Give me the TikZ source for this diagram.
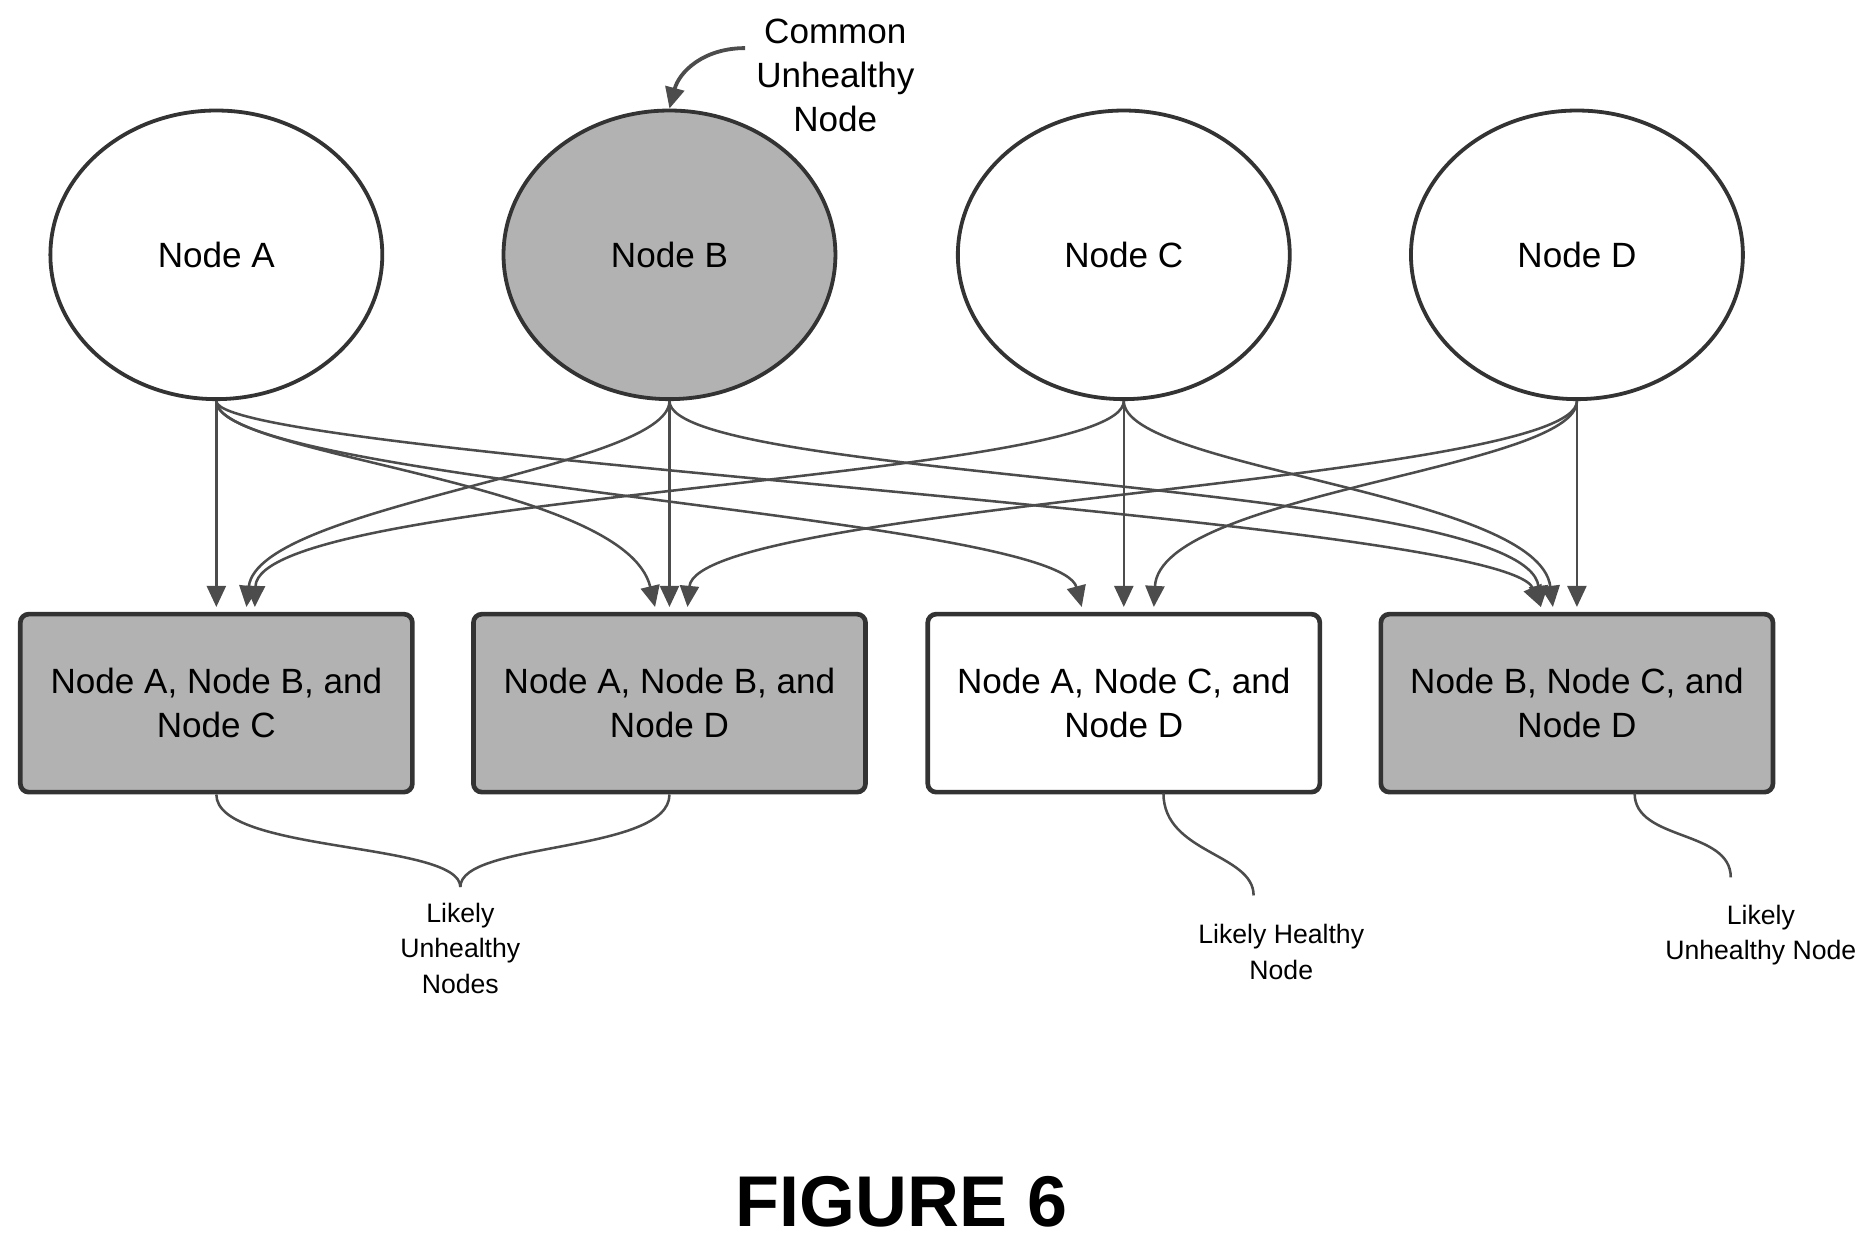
\documentclass[tikz,border=0pt]{standalone}
\usepackage{fontspec}
\setmainfont{Liberation Sans}
\usetikzlibrary{arrows.meta,shapes.geometric}
\begin{document}
\begin{tikzpicture}[x=0.01cm,y=-0.01cm,
  ell/.style={ellipse,draw=black!80,line width=0.9pt,minimum width=276\pgflinewidth*0+2.76cm,minimum height=2.4cm,font=\fontsize{8.3}{10}\selectfont},
  box/.style={rectangle,rounded corners=2pt,draw=black!80,line width=1.1pt,minimum width=3.26cm,minimum height=1.48cm,align=center,font=\fontsize{8.3}{10.4}\selectfont},
  sh/.style={fill=black!30},
  ar/.style={draw=black!70,line width=0.6pt,-{Triangle[width=4.5pt,length=5pt]}},
  ln/.style={draw=black!70,line width=0.6pt},
  lab/.style={align=center,font=\fontsize{6.3}{8.4}\selectfont}]
\useasboundingbox (0,0) rectangle (1560,1032);
\node[ell] (A) at (180,212) {Node A};
\node[ell,sh] (B) at (557,212) {Node B};
\node[ell] (C) at (935,212) {Node C};
\node[ell] (D) at (1312,212) {Node D};
\node[box,sh] (R1) at (180,585) {Node A, Node B, and\\Node C};
\node[box,sh] (R2) at (557,585) {Node A, Node B, and\\Node D};
\node[box] (R3) at (935,585) {Node A, Node C, and\\Node D};
\node[box,sh] (R4) at (1312,585) {Node B, Node C, and\\Node D};
% targets
\coordinate (t1a) at (180,505); \coordinate (t1b) at (205,505); \coordinate (t1c) at (212,505);
\coordinate (t2a) at (545,505); \coordinate (t2b) at (557,505); \coordinate (t2d) at (572,505);
\coordinate (t3a) at (900,505); \coordinate (t3c) at (935,505); \coordinate (t3d) at (960,505);
\coordinate (t4b) at (1282,505); \coordinate (t4c) at (1292,505); \coordinate (t4d) at (1312,505);
% from A
\draw[ar] (A.south) -- (t1a);
\draw[ar] (A.south) .. controls (180,380) and (520,400) .. (t2a);
\draw[ar] (A.south) .. controls (180,400) and (880,430) .. (t3a);
\draw[ar] (A.south) .. controls (180,380) and (1250,430) .. (t4b);
% from B
\draw[ar] (B.south) .. controls (557,390) and (215,420) .. (t1b);
\draw[ar] (B.south) -- (t2b);
\draw[ar] (B.south) .. controls (557,400) and (1270,400) .. (t4b);
% from C
\draw[ar] (C.south) .. controls (935,400) and (215,410) .. (t1c);
\draw[ar] (C.south) -- (t3c);
\draw[ar] (C.south) .. controls (935,390) and (1280,410) .. (t4c);
% from D
\draw[ar] (D.south) .. controls (1312,400) and (580,420) .. (t2d);
\draw[ar] (D.south) .. controls (1312,390) and (965,410) .. (t3d);
\draw[ar] (D.south) -- (t4d);
% braces
\coordinate (b1) at (383,738);
\draw[ln] (R1.south) .. controls (180,710) and (383,700) .. (b1);
\draw[ln] (R2.south) .. controls (557,710) and (383,700) .. (b1);
\node[lab] (L1) at (383,789) {Likely\\Unhealthy\\Nodes};
\coordinate (b3) at (1043,745);
\draw[ln] (968,660) .. controls (968,710) and (1043,710) .. (b3);
\node[lab] (L3) at (1066,792) {Likely Healthy\\Node};
\coordinate (b4) at (1440,730);
\draw[ln] (1360,660) .. controls (1360,700) and (1440,690) .. (b4);
\node[lab] (L4) at (1465,778) {Likely\\Unhealthy Node};
% callout
\node[align=center,font=\fontsize{8.3}{10.4}\selectfont] (T) at (695,63) {Common\\Unhealthy\\Node};
\coordinate (cs) at (620,40);
\draw[ar,line width=0.9pt] (cs) .. controls (585,40) and (565,60) .. (B.north);
\node[font=\fontsize{17}{20}\selectfont\bfseries] (F) at (750,1000) {FIGURE 6};
\end{tikzpicture}
\end{document}
